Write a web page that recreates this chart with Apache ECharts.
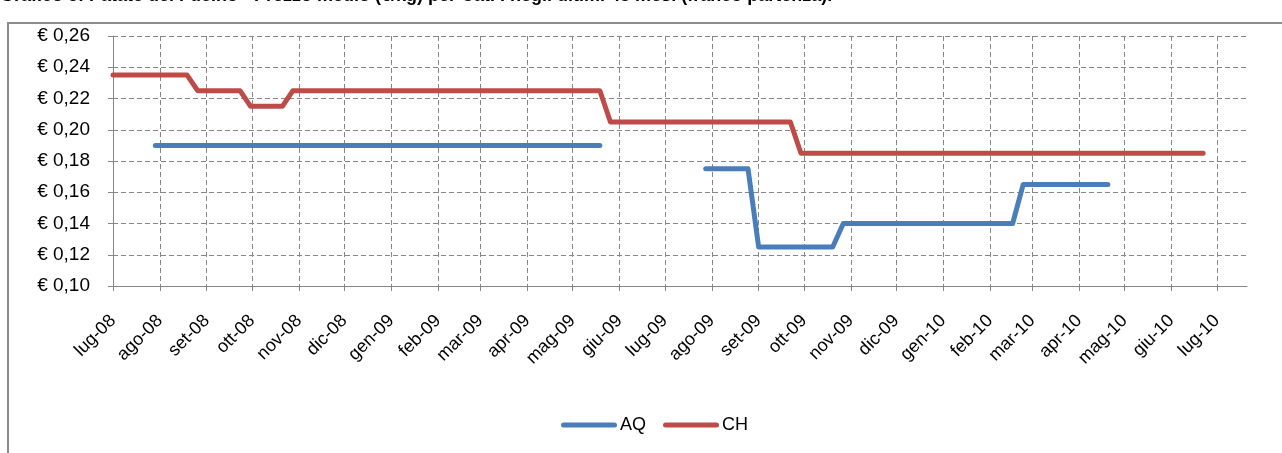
<!DOCTYPE html>
<html>
<head>
<meta charset="utf-8">
<script src="https://cdn.jsdelivr.net/npm/echarts@6/dist/echarts.min.js"></script>
<style>
html,body{margin:0;padding:0;background:#fff;}
#chart{width:1282px;height:453px;}
</style>
</head>
<body>
<div id="chart"></div>
<script>
// ---- data ----
const titleText = 'Grafico 5: Patate del Fucino - Prezzo medio (€/kg) per Cat. I negli ultimi 48 mesi (franco partenza).';
const seriesNames = ['AQ', 'CH'];
const tickDates = ['2008-07-01','2008-08-01','2008-09-01','2008-10-01','2008-11-01','2008-12-01',
  '2009-01-01','2009-02-01','2009-03-01','2009-04-01','2009-05-01','2009-06-01',
  '2009-07-01','2009-08-01','2009-09-01','2009-10-01','2009-11-01','2009-12-01',
  '2010-01-01','2010-02-01','2010-03-01','2010-04-01','2010-05-01','2010-06-01','2010-07-01'];
const tickLabels = ['lug-08','ago-08','set-08','ott-08','nov-08','dic-08',
  'gen-09','feb-09','mar-09','apr-09','mag-09','giu-09',
  'lug-09','ago-09','set-09','ott-09','nov-09','dic-09',
  'gen-10','feb-10','mar-10','apr-10','mag-10','giu-10','lug-10'];
const axisEnd = '2010-07-21';
const yTicks = [0.10, 0.12, 0.14, 0.16, 0.18, 0.20, 0.22, 0.24, 0.26];

const aqDates  = ['2008-07-29','2009-05-19','2009-06-23','2009-07-28','2009-08-25','2009-09-01','2009-10-20','2009-10-27','2010-02-16','2010-02-23','2010-04-20'];
const aqValues = [0.190,       0.190,       null,        0.175,       0.175,       0.125,       0.125,       0.140,       0.140,       0.165,       0.165];

const chDates  = ['2008-07-01','2008-08-19','2008-08-26','2008-09-23','2008-09-30','2008-10-21','2008-10-28','2009-05-19','2009-05-26','2009-09-22','2009-09-29','2010-06-22'];
const chValues = [0.235,       0.235,       0.225,       0.225,       0.215,       0.215,       0.225,       0.225,       0.205,       0.205,       0.185,       0.185];

const colors = ['#4A7EBB', '#BE4B48'];

// ---- build ----
const toTime = d => echarts.time.parse(d).getTime();
const tickTimes = tickDates.map(toTime);
const pair = (ds, vs) => ds.map((d, i) => [toTime(d), vs[i]]);
const FONT = '"Liberation Sans", Arial, sans-serif';
const GRID_C = '#868686';

const chart = echarts.init(document.getElementById('chart'), null, {renderer: 'canvas'});
chart.setOption({
  animation: false,
  backgroundColor: '#fff',
  title: {
    text: titleText, left: 0, top: -13, padding: 0,
    textStyle: {fontFamily: FONT, fontSize: 18, fontWeight: 'bold', color: '#000'}
  },
  graphic: [{
    type: 'rect', silent: true, z: -1,
    shape: {x: 8, y: 23, width: 1400, height: 600},
    style: {fill: 'none', stroke: '#8c8c8c', lineWidth: 2}
  }],
  grid: {left: 113, right: 35, top: 36, bottom: 167, containLabel: false, outerBoundsMode: 'none'},
  legend: {
    data: seriesNames, left: 561, top: 416, padding: 0, itemWidth: 56, itemHeight: 5, itemGap: 17,
    icon: 'path://M2.5,0H53.5A2.5,2.5,0,0,1,53.5,5H2.5A2.5,2.5,0,0,1,2.5,0Z',
    textStyle: {fontFamily: FONT, fontSize: 18, color: '#000', padding: [0,0,0,-2]}
  },
  xAxis: {
    type: 'value',
    min: tickTimes[0], max: toTime(axisEnd),
    axisLine: {show: true, onZero: false, lineStyle: {color: GRID_C, width: 1}},
    axisTick: {show: true, length: 5, customValues: tickTimes, lineStyle: {color: GRID_C}},
    splitLine: {show: true, customValues: tickTimes, lineStyle: {color: GRID_C, type: [5, 3], width: 1}},
    axisLabel: {
      customValues: tickTimes, rotate: 45, margin: 32,
      fontFamily: FONT, fontSize: 18, color: '#000',
      formatter: function (v) {
        for (let i = 0; i < tickTimes.length; i++) {
          if (Math.abs(tickTimes[i] - v) < 43200000) return tickLabels[i];
        }
        return '';
      }
    }
  },
  yAxis: {
    type: 'value', min: yTicks[0], max: yTicks[yTicks.length - 1], interval: 0.02,
    axisLine: {show: true, lineStyle: {color: GRID_C, width: 1}},
    axisTick: {show: true, length: 5, lineStyle: {color: GRID_C}},
    splitLine: {show: true, lineStyle: {color: GRID_C, type: [5, 3], width: 1}},
    axisLabel: {
      margin: 23, fontFamily: FONT, fontSize: 19, color: '#000',
      formatter: v => '€ ' + v.toFixed(2).replace('.', ',')
    }
  },
  series: [
    {name: seriesNames[0], type: 'line', data: pair(aqDates, aqValues), showSymbol: false, symbol: 'none',
     connectNulls: false, color: colors[0],
     lineStyle: {width: 5, color: colors[0], cap: 'round', join: 'round'}},
    {name: seriesNames[1], type: 'line', data: pair(chDates, chValues), showSymbol: false, symbol: 'none',
     color: colors[1],
     lineStyle: {width: 5, color: colors[1], cap: 'round', join: 'round'}}
  ]
});
</script>
</body>
</html>
